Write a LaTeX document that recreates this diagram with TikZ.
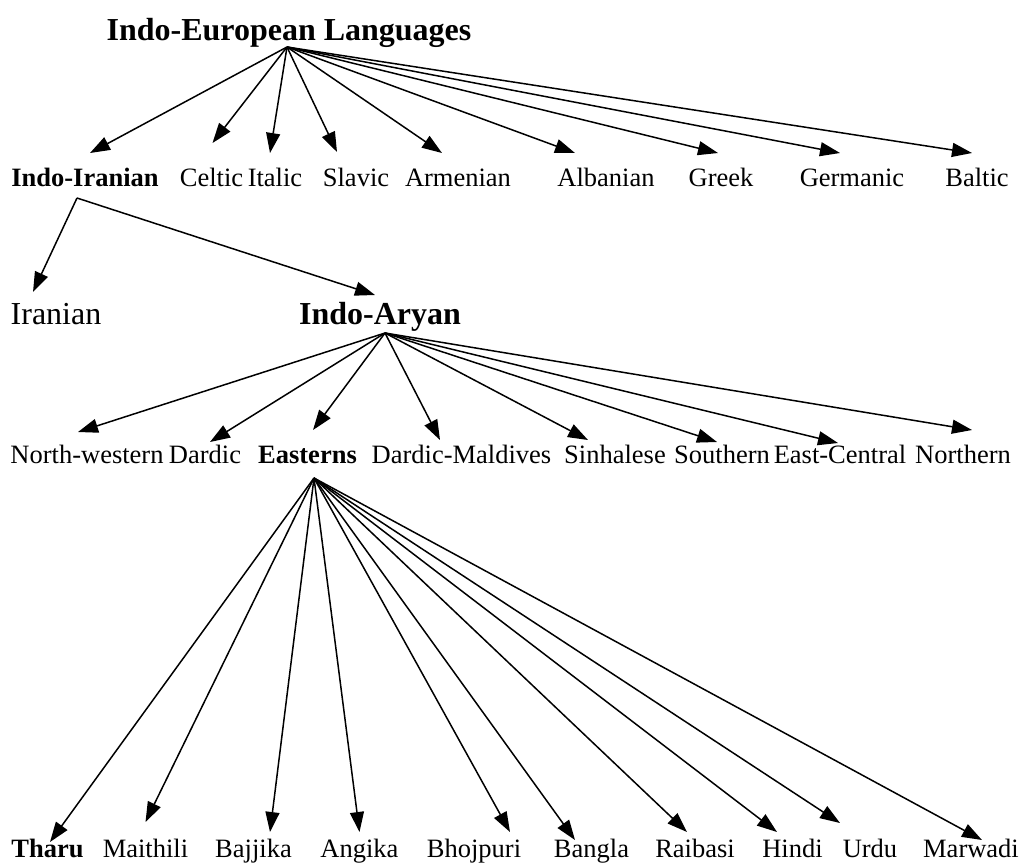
\documentclass[tikz,border=0pt]{standalone}
\usepackage{fontspec}
\setmainfont{Liberation Serif}
\usetikzlibrary{arrows.meta}

\begin{document}
\begin{tikzpicture}[x=1pt,y=-1pt,>={Triangle[length=20pt,width=14pt]},
  lang/.style={inner sep=0pt,anchor=base,font=\fontsize{26.5}{30}\selectfont},
  biglang/.style={inner sep=0pt,anchor=base,font=\fontsize{32}{36}\selectfont},
  branch/.style={line width=1.5pt,->}]
\useasboundingbox (0,0) rectangle (1022,863);
%Заголовок
\node [biglang] (ie) at (289,40) {\textbf{Indo-European Languages}};
\coordinate (ieS) at ([xshift=-2pt,yshift=-7pt]ie.base);
%Первый уровень
\node [lang] (ii) at (85,186) {\textbf{Indo-Iranian}};
\node [lang] (cel) at (211.5,186) {Celtic};
\node [lang] (ita) at (275,186) {Italic};
\node [lang] (sla) at (356,186) {Slavic};
\node [lang] (arm) at (458,186) {Armenian};
\node [lang] (alb) at (606,186) {Albanian};
\node [lang] (gre) at (721,186) {Greek};
\node [lang] (ger) at (852,186) {Germanic};
\node [lang] (bal) at (977,186) {Baltic};
\coordinate (iiS) at ([xshift=-8pt,yshift=-12pt]ii.base);
\draw [branch] (ieS) -- ([xshift=5pt,yshift=33pt]ii.base);
\draw [branch] (ieS) -- ([xshift=1pt,yshift=43pt]cel.base);
\draw [branch] (ieS) -- ([xshift=-5pt,yshift=33pt]ita.base);
\draw [branch] (ieS) -- ([xshift=-19pt,yshift=34pt]sla.base);
\draw [branch] (ieS) -- ([xshift=-16pt,yshift=33pt]arm.base);
\draw [branch] (ieS) -- ([xshift=-31pt,yshift=33pt]alb.base);
\draw [branch] (ieS) -- ([xshift=-3pt,yshift=33pt]gre.base);
\draw [branch] (ieS) -- ([xshift=-12pt,yshift=33pt]ger.base);
\draw [branch] (ieS) -- ([xshift=-5pt,yshift=33pt]bal.base);
%Второй уровень
\node [biglang] (ir) at (56,324) {Iranian};
\node [biglang] (ia) at (380,324) {\textbf{Indo-Aryan}};
\coordinate (iaS) at ([xshift=5pt,yshift=-9pt]ia.base);
\draw [branch] (iiS) -- ([xshift=-23pt,yshift=32pt]ir.base);
\draw [branch] (iiS) -- ([xshift=-5pt,yshift=29pt]ia.base);
%Третий уровень
\node [lang] (nw) at (87,463) {North-western};
\node [lang] (dar) at (205,463) {Dardic};
\node [lang] (eas) at (307.5,463) {\textbf{Easterns}};
\node [lang] (dm) at (461.5,463) {Dardic-Maldives};
\node [lang] (sin) at (615,463) {Sinhalese};
\node [lang] (sou) at (722,463) {Southern};
\node [lang] (ec) at (840,463) {East-Central};
\node [lang] (nor) at (963,463) {Northern};
\coordinate (eaS) at ([xshift=6.5pt,yshift=-15pt]eas.base);
\draw [branch] (iaS) -- ([xshift=-9pt,yshift=31pt]nw.base);
\draw [branch] (iaS) -- ([xshift=5pt,yshift=21pt]dar.base);
\draw [branch] (iaS) -- ([xshift=5.5pt,yshift=33pt]eas.base);
\draw [branch] (iaS) -- ([xshift=-21.5pt,yshift=23pt]dm.base);
\draw [branch] (iaS) -- ([xshift=-27pt,yshift=23pt]sin.base);
\draw [branch] (iaS) -- ([xshift=-5pt,yshift=21pt]sou.base);
\draw [branch] (iaS) -- ([xshift=-2pt,yshift=20pt]ec.base);
\draw [branch] (iaS) -- ([xshift=9pt,yshift=33pt]nor.base);
%Четвёртый уровень
\node [lang] (tha) at (47.5,857) {\textbf{Tharu}};
\node [lang] (mai) at (145.5,857) {Maithili};
\node [lang] (baj) at (253.5,857) {Bajjika};
\node [lang] (ang) at (359.5,857) {Angika};
\node [lang] (bho) at (474,857) {Bhojpuri};
\node [lang] (ban) at (591.5,857) {Bangla};
\node [lang] (rai) at (695,857) {Raibasi};
\node [lang] (hin) at (792.5,857) {Hindi};
\node [lang] (urd) at (870,857) {Urdu};
\node [lang] (mar) at (971,857) {Marwadi};
\draw [branch] (eaS) -- ([xshift=2.5pt,yshift=15pt]tha.base);
\draw [branch] (eaS) -- ([xshift=0pt,yshift=35pt]mai.base);
\draw [branch] (eaS) -- ([xshift=16.5pt,yshift=25pt]baj.base);
\draw [branch] (eaS) -- ([xshift=0pt,yshift=25pt]ang.base);
\draw [branch] (eaS) -- ([xshift=36pt,yshift=25pt]bho.base);
\draw [branch] (eaS) -- ([xshift=-16.5pt,yshift=17pt]ban.base);
\draw [branch] (eaS) -- ([xshift=-8pt,yshift=25pt]rai.base);
\draw [branch] (eaS) -- ([xshift=-15.5pt,yshift=25pt]hin.base);
\draw [branch] (eaS) -- ([xshift=-30pt,yshift=34pt]urd.base);
\draw [branch] (eaS) -- ([xshift=11pt,yshift=17pt]mar.base);
\end{tikzpicture}
\end{document}
